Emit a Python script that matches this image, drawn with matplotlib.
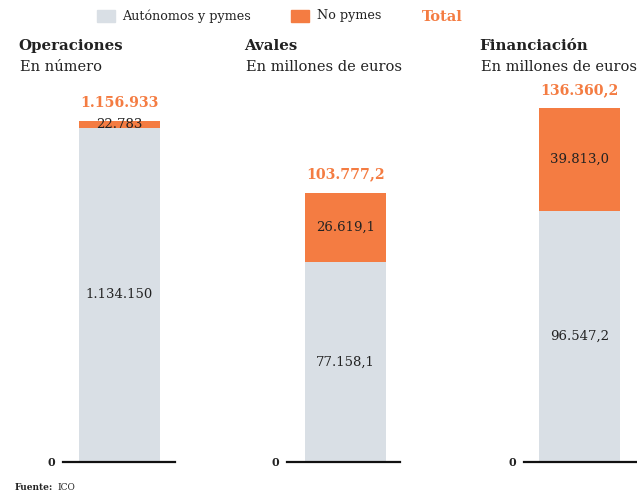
import matplotlib.pyplot as plt

# data
panels = ["Operaciones", "Avales", "Financiación"]
subtitles = ["En número", "En millones de euros", "En millones de euros"]
pymes = [1134150, 77158.1, 96547.2]
no_pymes = [22783, 26619.1, 39813.0]
totals = [1156933, 103777.2, 136360.2]
pymes_lbl = ["1.134.150", "77.158,1", "96.547,2"]
no_pymes_lbl = ["22.783", "26.619,1", "39.813,0"]
totals_lbl = ["1.156.933", "103.777,2", "136.360,2"]
ytops = [1296040, 147145, 147145]

GRAY = "#d9dfe5"
ORANGE = "#f47c42"
DARK = "#222222"
FONT = "DejaVu Serif"

W, H = 637, 495
fig = plt.figure(figsize=(W / 100, H / 100), dpi=100)

# axes positions in pixels: left edge, right edge (line span)
spans = [(63, 175), (287, 400), (524, 637)]
bar_centers = [119.5, 345.5, 579.5]
title_x = [18, 244, 479]
ax_bottom, ax_top = 462, 80

for i in range(3):
    x0, x1 = spans[i]
    ax = fig.add_axes([x0 / W, (H - ax_bottom) / H, (x1 - x0) / W, (ax_bottom - ax_top) / H])
    ax.set_xlim(x0, x1)
    ax.set_ylim(0, ytops[i])
    c = bar_centers[i]
    ax.bar(c, pymes[i], width=81, color=GRAY)
    ax.bar(c, no_pymes[i], width=81, bottom=pymes[i], color=ORANGE)
    ax.text(c, pymes[i] / 2, pymes_lbl[i], ha="center", va="center",
            fontsize=9.5, color=DARK, family=FONT)
    ax.text(c, pymes[i] + no_pymes[i] / 2, no_pymes_lbl[i], ha="center", va="center",
            fontsize=9.5, color=DARK, family=FONT)
    ax.annotate(totals_lbl[i], (c, totals[i]), xytext=(0, 13), textcoords="offset points",
                ha="center", va="center", fontsize=10.2, fontweight="bold",
                color=ORANGE, family=FONT)
    for s in ["top", "right", "left"]:
        ax.spines[s].set_visible(False)
    ax.spines["bottom"].set_linewidth(1.6)
    ax.spines["bottom"].set_color("#111111")
    ax.set_xticks([])
    ax.set_yticks([0])
    ax.set_yticklabels(["0"], family=FONT, fontsize=8, fontweight="bold", color=DARK)
    ax.tick_params(axis="y", length=0, pad=6)

    fig.text(title_x[i] / W, 1 - 46 / H, panels[i], ha="left", va="center",
             fontsize=10.8, fontweight="bold", color=DARK, family=FONT)
    fig.text((title_x[i] + 2) / W, 1 - 67 / H, subtitles[i], ha="left", va="center",
             fontsize=10.5, color=DARK, family=FONT)

# legend
fig.patches.append(plt.Rectangle((97 / W, 1 - 22 / H), 18 / W, 12 / H,
                                 transform=fig.transFigure, color=GRAY))
fig.text(122 / W, 1 - 16 / H, "Autónomos y pymes", ha="left", va="center",
         fontsize=9.2, color=DARK, family=FONT)
fig.patches.append(plt.Rectangle((291 / W, 1 - 22 / H), 18 / W, 12 / H,
                                 transform=fig.transFigure, color=ORANGE))
fig.text(317 / W, 1 - 16 / H, "No pymes", ha="left", va="center",
         fontsize=9.2, color=DARK, family=FONT)
fig.text(422 / W, 1 - 17 / H, "Total", ha="left", va="center",
         fontsize=10.5, fontweight="bold", color=ORANGE, family=FONT)

# source
fig.text(15 / W, 1 - 487 / H, "Fuente:", ha="left", va="center",
         fontsize=6.5, fontweight="bold", color=DARK, family=FONT)
fig.text(57 / W, 1 - 487 / H, "ICO", ha="left", va="center",
         fontsize=6.5, color=DARK, family=FONT)

fig.savefig("out.png", dpi=100)
